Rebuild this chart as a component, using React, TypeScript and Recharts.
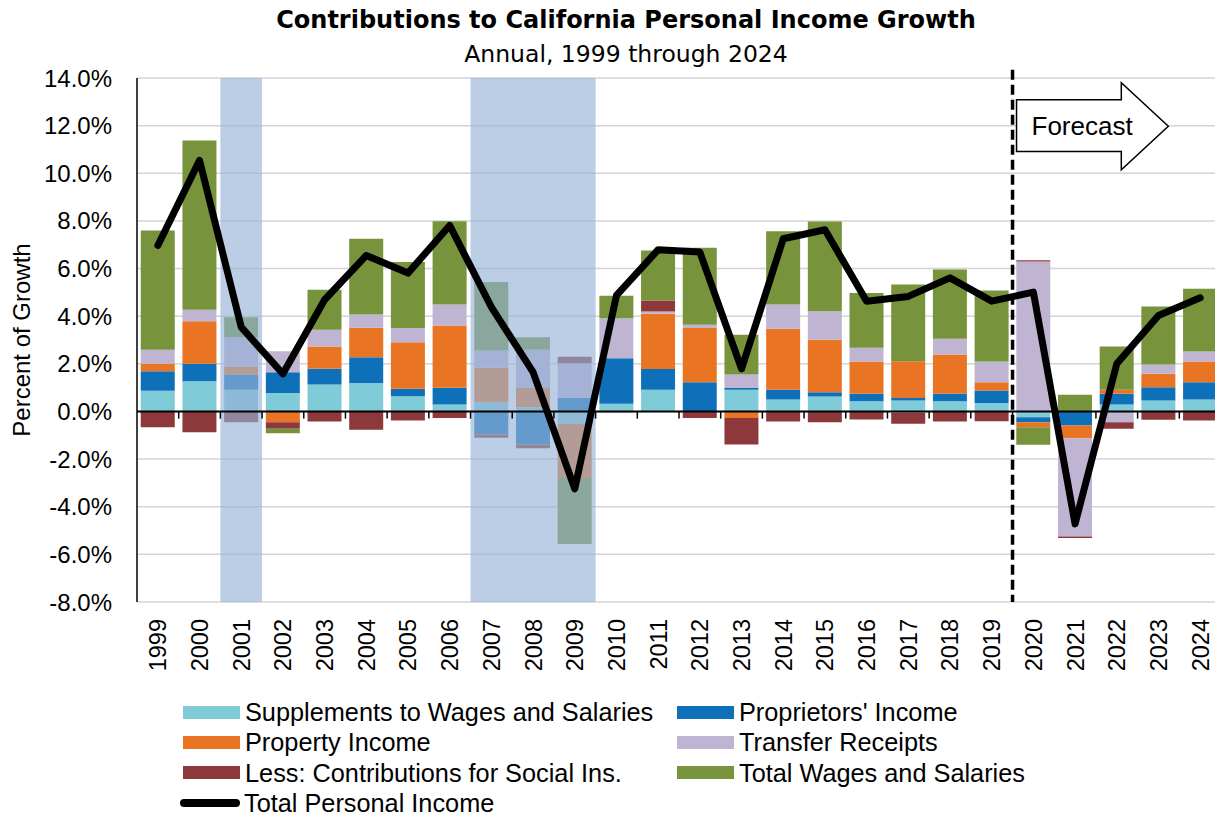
import React from 'react';
import { ComposedChart, Bar, Line, XAxis, YAxis, CartesianGrid, ReferenceLine, ReferenceArea } from 'recharts';

// annual contributions to growth, percentage points, 1999..2024
const years = [
  '1999', '2000', '2001', '2002', '2003', '2004', '2005', '2006', '2007', '2008', '2009', '2010', '2011',
  '2012', '2013', '2014', '2015', '2016', '2017', '2018', '2019', '2020', '2021', '2022', '2023', '2024',
];
const supplements = [0.87, 1.27, 0.91, 0.77, 1.13, 1.19, 0.64, 0.29, 0.39, 0.18, -0.52, 0.32, 0.91, 0.02, 0.91, 0.5, 0.63, 0.43, 0.46, 0.43, 0.36, -0.24, 0.0, 0.29, 0.46, 0.5];
const proprietors = [0.82, 0.73, 0.64, 0.88, 0.66, 1.09, 0.31, 0.7, -0.97, -1.39, 0.57, 1.91, 0.87, 1.21, 0.07, 0.41, 0.18, 0.31, 0.11, 0.31, 0.52, -0.21, -0.59, 0.45, 0.56, 0.73];
const property = [0.31, 1.79, 0.34, -0.45, 0.94, 1.23, 1.96, 2.62, 1.44, 0.8, -2.27, 0.0, 2.32, 2.27, -0.28, 2.56, 2.2, 1.36, 1.54, 1.65, 0.35, -0.21, -0.53, 0.17, 0.56, 0.87];
const transfers = [0.59, 0.48, 1.23, 0.88, 0.7, 0.56, 0.59, 0.88, 0.73, 1.61, 1.45, 1.68, 0.1, 0.14, 0.57, 1.02, 1.2, 0.57, -0.05, 0.66, 0.87, 6.3, -4.13, -0.45, 0.39, 0.42];
const socialIns = [-0.66, -0.87, -0.45, -0.28, -0.42, -0.77, -0.38, -0.27, -0.13, -0.15, 0.28, -0.03, 0.46, -0.27, -1.11, -0.42, -0.45, -0.34, -0.47, -0.42, -0.41, 0.05, -0.06, -0.28, -0.35, -0.38];
const wages = [5.01, 7.11, 0.84, -0.18, 1.68, 3.18, 2.78, 3.5, 2.87, 0.53, -2.78, 0.95, 2.1, 3.23, 1.67, 3.08, 3.77, 2.3, 3.22, 2.91, 2.98, -0.74, 0.7, 1.82, 2.44, 2.63];
const totalIncome = [6.97, 10.54, 3.54, 1.58, 4.69, 6.55, 5.81, 7.81, 4.38, 1.65, -3.25, 4.87, 6.79, 6.69, 1.79, 7.25, 7.63, 4.63, 4.83, 5.61, 4.63, 5.01, -4.72, 2.0, 4.03, 4.77];

const yTicks = [-8, -6, -4, -2, 0, 2, 4, 6, 8, 10, 12, 14];
const recessions = [['2001', '2001'], ['2007', '2009']];
const forecastStart = '2020';

const series = [
  { key: 'supplements', name: 'Supplements to Wages and Salaries', color: '#80CBD8', values: supplements },
  { key: 'proprietors', name: "Proprietors' Income", color: '#0F70BA', values: proprietors },
  { key: 'property', name: 'Property Income', color: '#E87424', values: property },
  { key: 'transfers', name: 'Transfer Receipts', color: '#BFB5D3', values: transfers },
  { key: 'socialIns', name: 'Less: Contributions for Social Ins.', color: '#8D393B', values: socialIns },
  { key: 'wages', name: 'Total Wages and Salaries', color: '#77933C', values: wages },
];

const data = years.map((year, i) => {
  const row: Record<string, any> = { year, total: totalIncome[i] };
  series.forEach((s) => { row[s.key] = s.values[i]; });
  return row;
});

const ARIAL = '"Liberation Sans", Arial, sans-serif';

const YearTick = ({ x, y, payload }: any) => (
  <text transform={`translate(${x},${y}) rotate(-90)`} textAnchor="end" dy="0.36em" fontSize={23.5} fontFamily={ARIAL} fill="#000">
    {payload.value}
  </text>
);

const ForecastArrow = (props: any) => {
  const { x, y, width, height } = props;
  const left = x + 4;
  const tip = x + width - 11;
  const neck = tip - 47;
  const top = y + height * 0.195;
  const bottom = y + height * 0.79;
  const mid = y + height / 2;
  return (
    <g>
      <path
        d={`M${left},${top} L${neck},${top} L${neck},${y} L${tip},${mid} L${neck},${y + height} L${neck},${bottom} L${left},${bottom} Z`}
        fill="#fff" stroke="#000" strokeWidth={1.5}
      />
      <text x={left + 15} y={mid} dy="0.35em" fontSize={26} fontFamily={ARIAL} fill="#000">Forecast</text>
    </g>
  );
};

export default function App() {
  return (
    <div style={{ position: 'absolute', left: 0, top: 0, width: 1215, height: 818, overflow: 'hidden', background: '#fff' }}>
      <div style={{ position: 'absolute', left: 226, top: 5, width: 800, textAlign: 'center', fontFamily: '"DejaVu Sans", sans-serif', fontWeight: 'bold', fontSize: 24, lineHeight: '30px' }}>
        Contributions to California Personal Income Growth
      </div>
      <div style={{ position: 'absolute', left: 226, top: 39, width: 800, textAlign: 'center', fontFamily: '"DejaVu Sans", sans-serif', fontSize: 23.5, lineHeight: '30px' }}>
        Annual, 1999 through 2024
      </div>

      <ComposedChart width={1221} height={818} data={data} stackOffset="sign" barCategoryGap="9%"
        margin={{ top: 78, right: 0, left: 0, bottom: 0 }} style={{ position: 'absolute', left: 0, top: 0 }}>
        <CartesianGrid vertical={false} stroke="#D4D4D4" strokeWidth={1.5} />
        <XAxis dataKey="year" interval={0} height={216} tickLine={false} axisLine={false} tickSize={0} tickMargin={17} tick={<YearTick />} />
        <YAxis
          domain={[-8, 14]} ticks={yTicks} width={137} tickLine={false} tickSize={0} tickMargin={25}
          axisLine={{ stroke: '#000', strokeWidth: 1.5 }}
          tick={{ fontSize: 24, fontFamily: ARIAL, fill: '#000' }}
          tickFormatter={(v: number) => `${v.toFixed(1)}%`}
          label={({ viewBox }: any) => (
            <text transform={`translate(${viewBox.x + 22},${viewBox.y + viewBox.height / 2}) rotate(-90)`} textAnchor="middle" dy="0.35em" fontSize={24} fontFamily={ARIAL} fill="#000">
              Percent of Growth
            </text>
          )}
        />
        {series.map((s) => (
          <Bar key={s.key} dataKey={s.key} name={s.name} stackId="a" fill={s.color} isAnimationActive={false} />
        ))}
        {recessions.map(([a, b]) => (
          <ReferenceArea key={a} x1={a} x2={b} fill="#95B3D7" fillOpacity={0.64} stroke="none" ifOverflow="hidden" zIndex={350} />
        ))}
        <ReferenceLine y={0} stroke="#000" strokeWidth={2} zIndex={360} />
        {years.slice(1).map((yr) => (
          <ReferenceLine key={yr} segment={[{ x: yr, y: 0 }, { x: yr, y: -0.3 }]} position="start" stroke="#000" strokeWidth={1.5} zIndex={360} />
        ))}
        <ReferenceLine segment={[{ x: forecastStart, y: 14.35 }, { x: forecastStart, y: -8 }]} position="start" ifOverflow="visible"
          stroke="#000" strokeWidth={3.5} strokeDasharray="10 5" zIndex={360} />
        <ReferenceArea x1="2020" x2="2023" y1={10.15} y2={13.8} ifOverflow="visible" shape={<ForecastArrow />} zIndex={360} />
        <Line dataKey="total" name="Total Personal Income" stroke="#000" strokeWidth={7} dot={false}
          strokeLinejoin="round" strokeLinecap="round" isAnimationActive={false} />
      </ComposedChart>

      {[...series, { key: 'total', name: 'Total Personal Income', color: '#000' }].map((s, i) => (
        <div key={s.key} style={{ position: 'absolute', left: 180 + (i % 2) * 494, top: 700 + Math.floor(i / 2) * 30.3, height: 24, lineHeight: '24px', display: 'flex', alignItems: 'center', fontFamily: ARIAL, fontSize: 25.3, color: '#000', whiteSpace: 'nowrap' }}>
          {s.key === 'total'
            ? <span style={{ display: 'inline-block', width: 60, height: 8, borderRadius: 4, background: '#000', marginRight: 4 }} />
            : <span style={{ display: 'inline-block', width: 57, height: 13, background: s.color, marginLeft: 3, marginRight: 5 }} />}
          {s.name}
        </div>
      ))}
    </div>
  );
}
